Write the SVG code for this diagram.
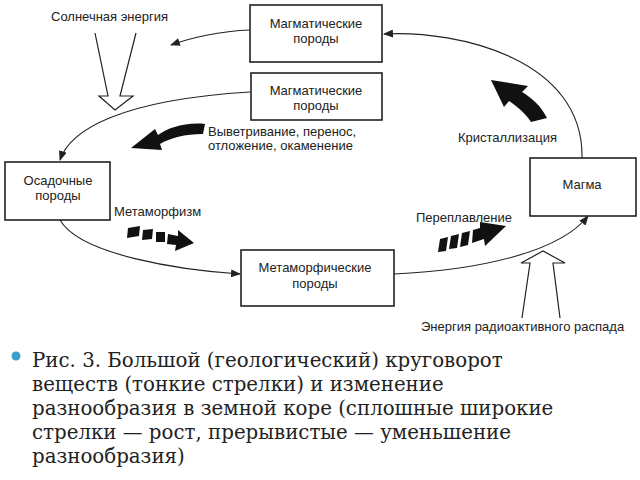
<svg xmlns="http://www.w3.org/2000/svg" width="640" height="480" viewBox="0 0 640 480">
<style>
.b{fill:#fff;stroke:#222;stroke-width:1.6}
.t{font-family:"Liberation Sans",Arial,sans-serif;font-size:13px;fill:#222;text-anchor:middle}
.l{font-family:"Liberation Sans",Arial,sans-serif;font-size:13px;fill:#222}
.c{fill:none;stroke:#222;stroke-width:1.1}
.cap{font-family:"DejaVu Serif",serif;font-size:19.8px;fill:#222}
</style>
<defs>
<marker id="a" markerWidth="10" markerHeight="8" refX="9" refY="4" orient="auto" markerUnits="userSpaceOnUse"><path d="M0,0L10,4L0,8z" fill="#222"/></marker>
</defs>
<rect width="640" height="480" fill="#fff"/>
<g id="connectors">
<path class="c" marker-end="url(#a)" d="M582,158 C584,60 460,30 384,34"/>
<path class="c" marker-end="url(#a)" d="M250,30 C220,31 190,38 171,45"/>
<path class="c" marker-end="url(#a)" d="M250,92 C120,100 70,130 60,160"/>
<path class="c" marker-end="url(#a)" d="M60,220 C80,255 180,270 240,274"/>
<path class="c" marker-end="url(#a)" d="M394,274 C480,270 560,252 588,216"/>
</g>
<g id="solar">
<path d="M95,33 L108,96 L99,96 L115,110 L133,96 L120,96 L136,33" fill="#fff" stroke="#222" stroke-width="1.2"/>
<text class="l" x="51" y="21">Солнечная энергия</text>
</g>
<g id="radio">
<path d="M522,318 L530,263 L521,263 L543,251 L565,263 L553,263 L560,318" fill="#fff" stroke="#222" stroke-width="1.2"/>
<text class="l" x="421" y="331">Энергия радиоактивного распада</text>
</g>
<g id="n1"><rect class="b" x="250" y="5" width="132" height="57"/><text class="t" x="316" y="28">Магматические</text><text class="t" x="316" y="43">породы</text></g>
<g id="n2"><rect class="b" x="251" y="73" width="131" height="47"/><text class="t" x="316" y="95">Магматические</text><text class="t" x="316" y="110">породы</text></g>
<g id="n3"><rect class="b" x="5" y="162" width="105" height="58"/><text class="t" x="58" y="185">Осадочные</text><text class="t" x="58" y="200">породы</text></g>
<g id="n4"><rect class="b" x="530" y="158" width="106" height="58"/><text class="t" x="582" y="189">Магма</text></g>
<g id="n5"><rect class="b" x="241" y="250" width="153" height="56"/><text class="t" x="315" y="272">Метаморфические</text><text class="t" x="315" y="288">породы</text></g>
<g id="weather">
<path d="M205,124 C185,122 168,128 158,135 L155,129 L131,148 L162,150 L160,144 C170,138 185,134 203,134 Z" fill="#111"/>
<text class="l" x="208" y="136">Выветривание, перенос,</text>
<text class="l" x="208" y="150">отложение, окаменение</text>
</g>
<g id="cryst">
<path d="M547,118 C541,106 532,98 522,92 L528,86 L491,80 L504,107 L509,101 C518,107 526,114 531,122 Z" fill="#111"/>
<text class="l" x="458" y="142">Кристаллизация</text>
</g>
<g id="meta">
<text class="l" x="114" y="216">Метаморфизм</text>
<g fill="#111">
<path d="M128,228 L140,226 L139,236 L127,238 Z"/>
<path d="M143,230 L153,229 L152,239 L142,240 Z"/>
<path d="M156,232 L165,232 L165,242 L156,242 Z"/>
<path d="M168,234 L178,236 L178,230 L194,243 L175,251 L176,245 L167,244 Z"/>
</g>
</g>
<g id="remelt">
<text class="l" x="416" y="222">Переплавление</text>
<g fill="#111">
<path d="M440,239 L448,237 L446,251 L438,252 Z"/>
<path d="M451,236 L459,234 L457,248 L449,249 Z"/>
<path d="M462,233 L470,231 L468,245 L460,247 Z"/>
<path d="M473,230 L480,228 L480,222 L506,226 L485,246 L484,239 L472,243 Z"/>
</g>
</g>
<g id="caption">
<circle cx="16" cy="356" r="4.5" fill="#3aa0c8"/>
<text class="cap" x="32" y="367">Рис. 3. Большой (геологический) круговорот</text>
<text class="cap" x="32" y="391">веществ (тонкие стрелки) и изменение</text>
<text class="cap" x="32" y="415">разнообразия в земной коре (сплошные широкие</text>
<text class="cap" x="32" y="439">стрелки — рост, прерывистые — уменьшение</text>
<text class="cap" x="32" y="463">разнообразия)</text>
</g>
</svg>
